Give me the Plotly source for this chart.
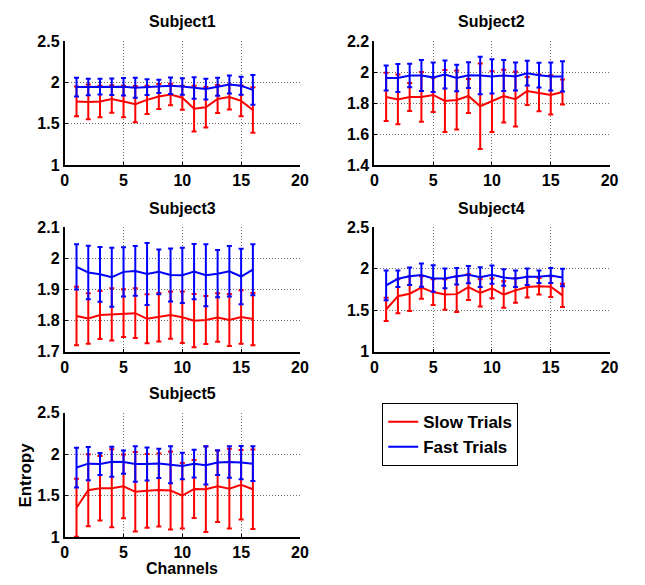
import plotly.graph_objects as go

channels = list(range(1, 17))

s1_slow = [1.771, 1.765, 1.769, 1.80, 1.77, 1.738, 1.79, 1.83, 1.855, 1.816, 1.684, 1.70, 1.80, 1.824, 1.777, 1.668]
s1_slow_err = [0.18, 0.21, 0.19, 0.165, 0.19, 0.22, 0.17, 0.15, 0.13, 0.145, 0.275, 0.245, 0.17, 0.15, 0.185, 0.275]
s1_fast = [1.944, 1.944, 1.948, 1.948, 1.948, 1.936, 1.944, 1.952, 1.96, 1.952, 1.933, 1.92, 1.948, 1.975, 1.96, 1.91]
s1_fast_err = [0.113, 0.10, 0.095, 0.10, 0.105, 0.12, 0.095, 0.08, 0.10, 0.10, 0.13, 0.125, 0.11, 0.11, 0.11, 0.18]

s2_slow = [1.84, 1.824, 1.84, 1.84, 1.853, 1.814, 1.82, 1.846, 1.78, 1.81, 1.845, 1.826, 1.878, 1.866, 1.853, 1.872]
s2_slow_err = [0.155, 0.16, 0.09, 0.16, 0.11, 0.20, 0.19, 0.11, 0.275, 0.195, 0.17, 0.176, 0.09, 0.118, 0.126, 0.08]
s2_fast = [1.962, 1.962, 1.978, 1.978, 1.966, 1.984, 1.962, 1.98, 1.978, 1.972, 1.978, 1.972, 1.993, 1.98, 1.972, 1.972]
s2_fast_err = [0.08, 0.09, 0.075, 0.10, 0.095, 0.09, 0.085, 0.083, 0.12, 0.11, 0.10, 0.09, 0.08, 0.08, 0.09, 0.097]

s3_slow = [1.815, 1.807, 1.818, 1.82, 1.824, 1.824, 1.806, 1.811, 1.818, 1.811, 1.80, 1.802, 1.81, 1.802, 1.812, 1.805]
s3_slow_err = [0.094, 0.081, 0.077, 0.084, 0.077, 0.08, 0.079, 0.078, 0.076, 0.083, 0.086, 0.077, 0.078, 0.084, 0.086, 0.084]
s3_fast = [1.973, 1.955, 1.949, 1.94, 1.957, 1.96, 1.95, 1.957, 1.947, 1.946, 1.958, 1.946, 1.951, 1.959, 1.942, 1.964]
s3_fast_err = [0.073, 0.086, 0.088, 0.095, 0.079, 0.08, 0.10, 0.072, 0.085, 0.089, 0.089, 0.10, 0.076, 0.081, 0.089, 0.082]

s4_slow = [1.51, 1.67, 1.70, 1.775, 1.72, 1.69, 1.695, 1.78, 1.71, 1.765, 1.69, 1.74, 1.78, 1.79, 1.785, 1.68]
s4_slow_err = [0.14, 0.205, 0.21, 0.135, 0.155, 0.185, 0.215, 0.155, 0.165, 0.12, 0.16, 0.15, 0.125, 0.10, 0.125, 0.14]
s4_fast = [1.80, 1.88, 1.91, 1.925, 1.885, 1.885, 1.91, 1.93, 1.90, 1.93, 1.895, 1.88, 1.905, 1.905, 1.92, 1.895]
s4_fast_err = [0.18, 0.10, 0.105, 0.14, 0.16, 0.12, 0.10, 0.105, 0.12, 0.11, 0.10, 0.10, 0.10, 0.075, 0.09, 0.105]

s5_slow = [1.355, 1.566, 1.59, 1.59, 1.613, 1.547, 1.559, 1.57, 1.563, 1.50, 1.582, 1.578, 1.613, 1.586, 1.633, 1.578]
s5_slow_err = [0.35, 0.435, 0.39, 0.47, 0.385, 0.48, 0.445, 0.44, 0.47, 0.395, 0.35, 0.515, 0.43, 0.48, 0.42, 0.48]
s5_fast = [1.84, 1.887, 1.883, 1.91, 1.906, 1.883, 1.883, 1.89, 1.875, 1.86, 1.887, 1.867, 1.90, 1.906, 1.90, 1.887]
s5_fast_err = [0.24, 0.20, 0.133, 0.18, 0.14, 0.215, 0.2, 0.176, 0.223, 0.16, 0.168, 0.23, 0.15, 0.19, 0.2, 0.21]

titles = ["Subject1", "Subject2", "Subject3", "Subject4", "Subject5"]
y_ranges = [[1, 2.5], [1.4, 2.2], [1.7, 2.1], [1, 2.5], [1, 2.5]]
y_dticks = [0.5, 0.2, 0.1, 0.5, 0.5]
x_range = [0, 20]
x_dtick = 5
series_names = ["Slow Trials", "Fast Trials"]
series_colors = ["#ff0000", "#0000ff"]

subjects = [
    (s1_slow, s1_slow_err, s1_fast, s1_fast_err),
    (s2_slow, s2_slow_err, s2_fast, s2_fast_err),
    (s3_slow, s3_slow_err, s3_fast, s3_fast_err),
    (s4_slow, s4_slow_err, s4_fast, s4_fast_err),
    (s5_slow, s5_slow_err, s5_fast, s5_fast_err),
]

W, H = 645, 585
# pixel boxes of each axes: (left, right, top, bottom)
boxes = [
    (62, 302, 34, 162),
    (378, 618, 34, 162),
    (62, 302, 226, 354),
    (378, 618, 226, 354),
    (62, 302, 417, 545),
]

FONT = "Liberation Sans"
fig = go.Figure()
layout = dict(
    width=W, height=H,
    margin=dict(l=0, r=0, t=0, b=0),
    paper_bgcolor="white", plot_bgcolor="white",
    showlegend=True,
    legend=dict(
        x=386 / W, y=1 - 407 / H, xanchor="left", yanchor="top",
        bordercolor="black", borderwidth=1, bgcolor="white",
        font=dict(family=FONT, size=17, color="black", weight="bold"),
        itemwidth=30, tracegroupgap=0,
    ),
    annotations=[],
)

for i, (slow, slow_err, fast, fast_err) in enumerate(subjects):
    k = "" if i == 0 else str(i + 1)
    l, r, t, b = boxes[i]
    for j, (vals, errs) in enumerate([(slow, slow_err), (fast, fast_err)]):
        fig.add_trace(go.Scatter(
            x=channels, y=vals, mode="lines",
            name=series_names[j],
            showlegend=(i == 0),
            legendgroup=series_names[j],
            line=dict(color=series_colors[j], width=2),
            error_y=dict(type="data", array=errs, visible=True,
                         color=series_colors[j], thickness=2, width=2.5),
            xaxis="x" + k, yaxis="y" + k,
        ))
    common = dict(
        showgrid=True, gridcolor="#6e6e6e", griddash="1px,2px", gridwidth=1,
        showline=True, linecolor="black", linewidth=2,
        ticks="inside", ticklen=3, tickcolor="black", tickwidth=1,
        zeroline=False,
        tickfont=dict(family=FONT, size=16, color="black", weight="bold"),
    )
    layout["xaxis" + k] = dict(
        common, domain=[l / W, r / W], range=x_range, dtick=x_dtick, tick0=0,
        anchor="y" + k,
    )
    layout["yaxis" + k] = dict(
        common, domain=[1 - b / H, 1 - t / H], range=y_ranges[i],
        dtick=y_dticks[i], tick0=0, anchor="x" + k,
    )
    layout["annotations"].append(dict(
        text="<b>" + titles[i] + "</b>", xref="paper", yref="paper",
        x=(l + r) / 2 / W, y=1 - (t - 20) / H, xanchor="center", yanchor="middle",
        showarrow=False, font=dict(family=FONT, size=16, color="black"),
    ))

layout["annotations"].append(dict(
    text="<b>Channels</b>", xref="paper", yref="paper",
    x=182 / W, y=1 - 568 / H, xanchor="center", yanchor="top",
    showarrow=False, font=dict(family=FONT, size=16, color="black"),
    borderpad=0,
))
layout["annotations"].append(dict(
    text="<b>Entropy</b>", xref="paper", yref="paper",
    x=21 / W, y=1 - 481 / H, xanchor="center", yanchor="middle", textangle=-90,
    showarrow=False, font=dict(family=FONT, size=17, color="black"),
))

fig.update_layout(**layout)
fig.write_html("out.html")
